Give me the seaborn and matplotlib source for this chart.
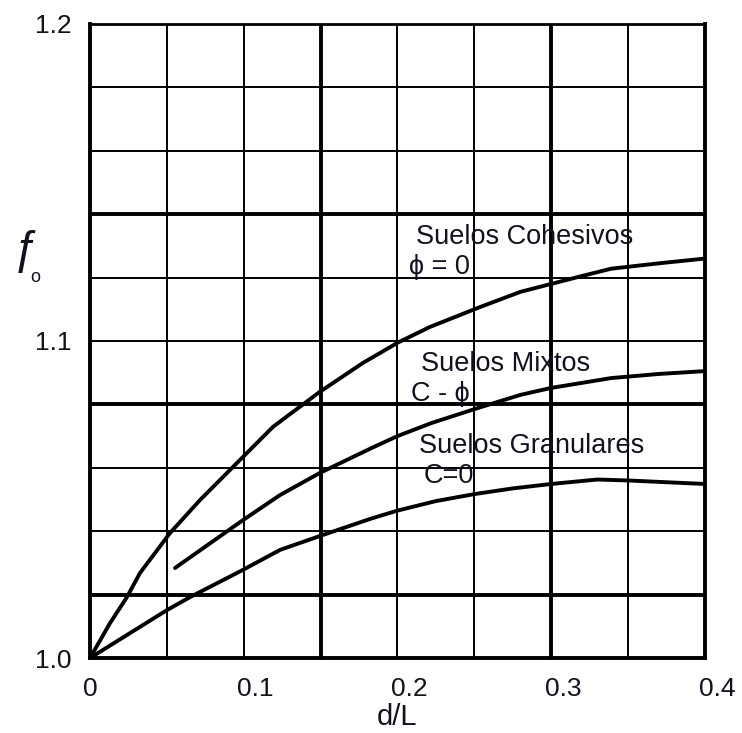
import matplotlib
matplotlib.use("Agg")
import matplotlib.pyplot as plt
import matplotlib.transforms as mtransforms
import seaborn as sns

# curves (d/L, f_o)
x_cohesivos = [0.0, 0.013, 0.024, 0.0325, 0.052, 0.0715, 0.0976, 0.119, 0.1496, 0.1776, 0.2003, 0.221, 0.2537, 0.28, 0.3, 0.32, 0.339, 0.37, 0.4]
y_cohesivos = [1.0, 1.011, 1.0192, 1.0268, 1.0394, 1.0498, 1.0625, 1.0729, 1.0840, 1.0931, 1.0995, 1.1044, 1.1107, 1.1155, 1.1180, 1.1205, 1.1228, 1.1245, 1.1260]

x_mixtos = [0.0553, 0.0995, 0.1236, 0.1496, 0.183, 0.2, 0.222, 0.25, 0.28, 0.3, 0.339, 0.37, 0.4]
y_mixtos = [1.0284, 1.0435, 1.0514, 1.0584, 1.0662, 1.0700, 1.0741, 1.0785, 1.0830, 1.0852, 1.0883, 1.0896, 1.0905]

x_granulares = [0.0, 0.05, 0.065, 0.0995, 0.1236, 0.1496, 0.183, 0.2, 0.225, 0.25, 0.275, 0.3, 0.33, 0.35, 0.4]
y_granulares = [1.0, 1.0151, 1.0192, 1.0278, 1.0341, 1.0385, 1.0440, 1.0465, 1.0495, 1.0517, 1.0535, 1.0549, 1.0563, 1.0560, 1.0549]

x_ticks = [0.0, 0.1, 0.2, 0.3, 0.4]
x_tick_labels = ["0", "0.1", "0.2", "0.3", "0.4"]
y_ticks = [1.0, 1.1, 1.2]
y_tick_labels = ["1.0", "1.1", "1.2"]

# label texts and where they sit
labels = ["Suelos Cohesivos", "\u03d5 = 0", "Suelos Mixtos", "C - \u03d5", "Suelos Granulares", "C=0"]
label_x = [0.212, 0.2075, 0.2153, 0.2088, 0.214, 0.2172]
label_y = [1.1328, 1.1233, 1.0927, 1.0833, 1.0669, 1.0574]

sns.set_style("white")
plt.rcParams['font.family'] = ['Liberation Sans', 'DejaVu Sans']
txt_color = "#111122"

fig = plt.figure(figsize=(7.42, 7.33), dpi=100)
ax = fig.add_axes([0.1213, 0.1023, 0.8287, 0.865])

# grid: thin lines every 0.05 / 0.02, a few heavier ones
for xv in [0.05, 0.1, 0.2, 0.25, 0.35]:
    ax.axvline(xv, color="black", lw=1.4, zorder=1)
for xv in [0.15, 0.3]:
    ax.axvline(xv, color="black", lw=2.8, zorder=1)
for yv in [1.04, 1.06, 1.10, 1.12, 1.16, 1.18]:
    ax.axhline(yv, color="black", lw=1.4, zorder=1)
for yv in [1.02, 1.08, 1.14]:
    ax.axhline(yv, color="black", lw=2.8, zorder=1)

for xs, ys in [(x_cohesivos, y_cohesivos), (x_mixtos, y_mixtos), (x_granulares, y_granulares)]:
    sns.lineplot(x=xs, y=ys, ax=ax, color="black", lw=2.8, zorder=3, sort=False)

for t, xv, yv in zip(labels, label_x, label_y):
    ax.text(xv, yv, t, fontsize=19.5, color=txt_color, ha="left", va="center", zorder=4)

ax.set_xlim(0, 0.4)
ax.set_ylim(1.0, 1.2)
ax.set_xticks(x_ticks)
ax.set_xticklabels(x_tick_labels)
ax.set_yticks(y_ticks)
ax.set_yticklabels(y_tick_labels)
ax.tick_params(axis="both", length=0, labelsize=19, labelcolor=txt_color)
ax.tick_params(axis="x", pad=14)
ax.tick_params(axis="y", pad=13)

# the printed labels sit a bit right of their grid lines
shift = mtransforms.ScaledTranslation(12 / 100, 0, fig.dpi_scale_trans)
for lbl in ax.get_xticklabels()[1:]:
    lbl.set_transform(lbl.get_transform() + shift)

ax.set_xlabel("d/L", fontsize=21, color=txt_color, labelpad=1)
# y label: hooked f with a small o at its foot
fig.text(0.036, 0.657, "\u0192", fontsize=33, color=txt_color, ha="center", va="center")
fig.text(0.047, 0.622, "o", fontsize=13, color=txt_color, ha="center", va="center")

for side in ["left", "bottom", "right"]:
    ax.spines[side].set_linewidth(2.8)
    ax.spines[side].set_color("black")
ax.spines["top"].set_linewidth(2.0)
ax.spines["top"].set_color("black")

fig.savefig("out.png", dpi=100)
